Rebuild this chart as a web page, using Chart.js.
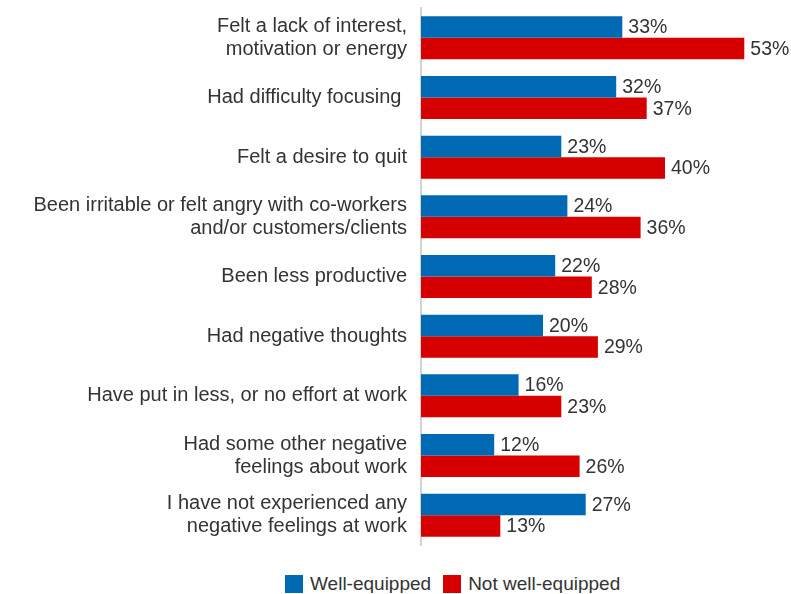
<!DOCTYPE html>
<html lang="en">
<head>
    <meta charset="UTF-8">
    <title>Negative feelings at work</title>
    <script src="https://cdn.jsdelivr.net/npm/chart.js"></script>
    <style>
        body { margin: 0; background: #fff; font-family: "Liberation Sans", Arial, sans-serif; }
        #wrap { position: relative; width: 791px; height: 560px; }
        #legend {
            display: flex; gap: 12px; margin-left: 285px; margin-top: 15px;
            font-size: 19px; color: #333; line-height: 18px;
        }
        .item { display: flex; align-items: center; }
        .box { width: 18px; height: 18px; margin-right: 7px; display: inline-block; }
    </style>
</head>
<body>
    <div id="wrap"><canvas id="chart"></canvas></div>
    <div id="legend"></div>

    <script>
        const categories = [
            ["Felt a lack of interest,", "motivation or energy"],
            "Had difficulty focusing ",
            "Felt a desire to quit",
            ["Been irritable or felt angry with co-workers", "and/or customers/clients"],
            "Been less productive",
            "Had negative thoughts",
            "Have put in less, or no effort at work",
            ["Had some other negative", "feelings about work"],
            ["I have not experienced any", "negative feelings at work"],
        ];
        const seriesNames = ["Well-equipped", "Not well-equipped"];
        const wellEquipped = [33, 32, 23, 24, 22, 20, 16, 12, 27];
        const notWellEquipped = [53, 37, 40, 36, 28, 29, 23, 26, 13];
        const colors = ["#0069b4", "#d70000"];

        // percent labels at the end of each bar
        const barLabels = {
            id: "barLabels",
            afterDatasetsDraw(chart) {
                const ctx = chart.ctx;
                ctx.save();
                ctx.font = "19.5px 'Liberation Sans', Arial, sans-serif";
                ctx.fillStyle = "#333";
                ctx.textBaseline = "middle";
                ctx.textAlign = "left";
                chart.data.datasets.forEach((ds, i) => {
                    chart.getDatasetMeta(i).data.forEach((bar, j) => {
                        ctx.fillText(ds.data[j] + "%", bar.x + 6, bar.y + 1);
                    });
                });
                ctx.restore();
            },
        };

        const chart = new Chart(document.getElementById("chart"), {
            type: "bar",
            data: {
                labels: categories,
                datasets: [
                    { label: seriesNames[0], data: wellEquipped, backgroundColor: colors[0] },
                    { label: seriesNames[1], data: notWellEquipped, backgroundColor: colors[1] },
                ],
            },
            options: {
                indexAxis: "y",
                responsive: true,
                maintainAspectRatio: false,
                animation: false,
                categoryPercentage: 0.72,
                barPercentage: 1,
                layout: { padding: { top: 8, bottom: 15, right: 4, left: 0 } },
                plugins: {
                    legend: { display: false },
                    tooltip: { enabled: false },
                },
                scales: {
                    x: { display: false, min: 0, max: 60 },
                    y: {
                        grid: { display: false },
                        border: { display: true, color: "#d4d4d4", width: 2 },
                        ticks: {
                            autoSkip: false,
                            padding: 6,
                            color: "#333",
                            font: { family: "'Liberation Sans', Arial, sans-serif", size: 20, lineHeight: 1.15 },
                        },
                        afterFit(scale) {
                            scale.width = 421;
                            scale.paddingTop = 0;
                            scale.paddingBottom = 0;
                        },
                    },
                },
            },
            plugins: [barLabels],
        });

        const legend = document.getElementById("legend");
        seriesNames.forEach((name, i) => {
            const item = document.createElement("span");
            item.className = "item";
            item.innerHTML = `<span class="box" style="background:${colors[i]}"></span>${name}`;
            legend.appendChild(item);
        });
    </script>
</body>
</html>
